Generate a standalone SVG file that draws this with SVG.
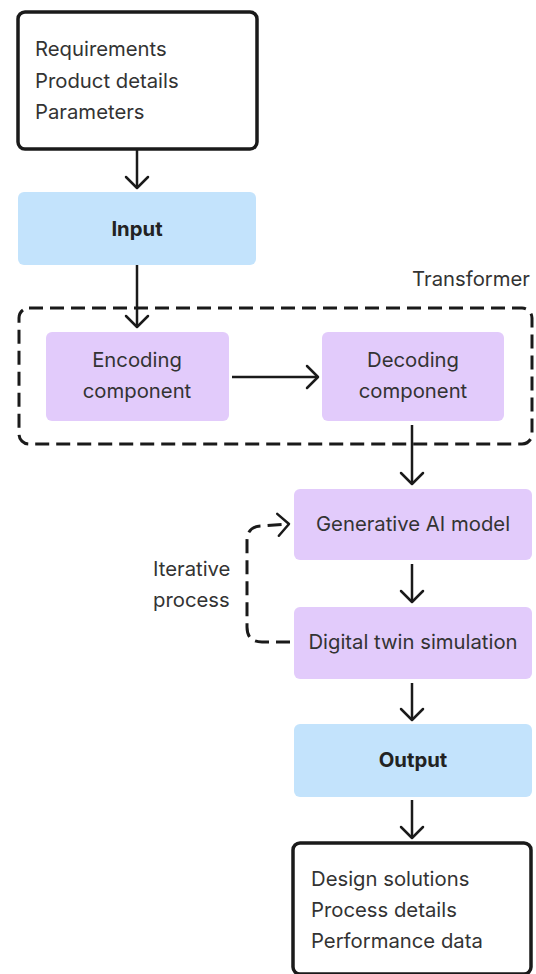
<svg xmlns="http://www.w3.org/2000/svg" width="536" height="974" viewBox="0 0 536 974">
<defs>
<style>
.t{font-family:Inter,"Noto Sans","Liberation Sans",sans-serif;font-size:20.3px;fill:#333333}
.b{font-weight:bold;fill:#222222}
.c{text-anchor:middle}
.box{fill:#ffffff;stroke:#1a1a1a;stroke-width:3.5}
.blue{fill:#c3e3fc}
.purple{fill:#e2cbfb}
.ln{fill:none;stroke:#1a1a1a;stroke-width:2.5}
.dash{fill:none;stroke:#1a1a1a;stroke-width:3;stroke-dasharray:14 7}
</style>
<marker id="ah" markerUnits="userSpaceOnUse" markerWidth="30" markerHeight="30" viewBox="0 0 30 30" refX="15" refY="15" orient="auto">
<path d="M4,4 L15,15 L4,26" fill="none" stroke="#1a1a1a" stroke-width="2.5" stroke-linecap="round" stroke-linejoin="round"/>
</marker>
</defs>
<rect width="536" height="974" fill="#ffffff"/>

<g id="transformer">
<rect x="19" y="308" width="513" height="136" rx="10" class="dash"/>
<text x="530" y="286" class="t" text-anchor="end">Transformer</text>
</g>

<g id="connectors">
<line x1="137" y1="150" x2="137" y2="188" class="ln" marker-end="url(#ah)"/>
<line x1="137" y1="265" x2="137" y2="327" class="ln" marker-end="url(#ah)"/>
<line x1="232" y1="377" x2="318" y2="377" class="ln" marker-end="url(#ah)"/>
<line x1="412" y1="425" x2="412" y2="484" class="ln" marker-end="url(#ah)"/>
<line x1="412" y1="564" x2="412" y2="602" class="ln" marker-end="url(#ah)"/>
<line x1="412" y1="683" x2="412" y2="720" class="ln" marker-end="url(#ah)"/>
<line x1="412" y1="800" x2="412" y2="838" class="ln" marker-end="url(#ah)"/>
<path d="M290,642 L262,642 Q247,642 247,627 L247,541 Q247,526 262,526 L289,524" class="dash" stroke-width="2.5" stroke-dasharray="12 7" marker-end="url(#ah)"/>
</g>

<g id="requirements">
<rect x="18" y="12" width="239" height="137" rx="7" class="box"/>
<text x="35" y="56" class="t">Requirements</text>
<text x="35" y="88" class="t">Product details</text>
<text x="35" y="119" class="t">Parameters</text>
</g>

<g id="input">
<rect x="18" y="192" width="238" height="73" rx="6" class="blue"/>
<text x="137" y="236" class="t b c">Input</text>
</g>

<g id="encoding">
<rect x="46" y="332" width="183" height="89" rx="6" class="purple"/>
<text x="137" y="367" class="t c">Encoding</text>
<text x="137" y="398" class="t c">component</text>
</g>

<g id="decoding">
<rect x="322" y="332" width="182" height="89" rx="6" class="purple"/>
<text x="413" y="367" class="t c">Decoding</text>
<text x="413" y="398" class="t c">component</text>
</g>

<g id="generative">
<rect x="294" y="489" width="238" height="71" rx="6" class="purple"/>
<text x="413" y="531" class="t c">Generative AI model</text>
</g>

<g id="iterative">
<text x="153" y="576" class="t">Iterative</text>
<text x="153" y="607" class="t">process</text>
</g>

<g id="digitaltwin">
<rect x="294" y="607" width="238" height="72" rx="6" class="purple"/>
<text x="413" y="649" class="t c">Digital twin simulation</text>
</g>

<g id="output">
<rect x="294" y="724" width="238" height="73" rx="6" class="blue"/>
<text x="413" y="767" class="t b c">Output</text>
</g>

<g id="results">
<rect x="293" y="843" width="238" height="131" rx="7" class="box"/>
<text x="311" y="886" class="t">Design solutions</text>
<text x="311" y="917" class="t">Process details</text>
<text x="311" y="948" class="t">Performance data</text>
</g>
</svg>
